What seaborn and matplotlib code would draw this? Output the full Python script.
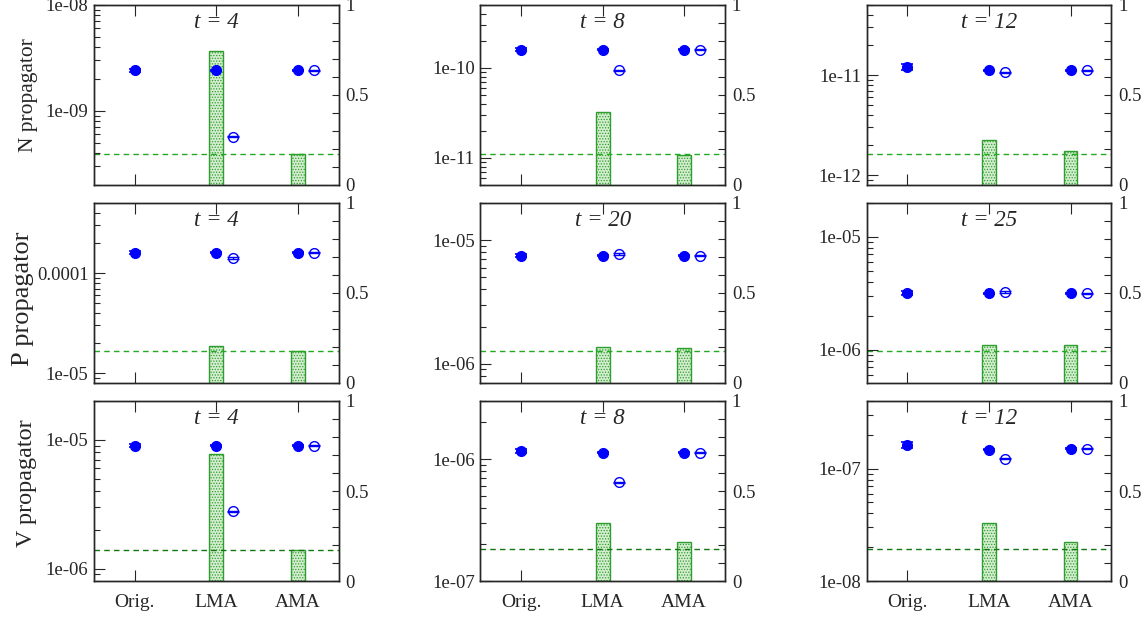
import matplotlib
matplotlib.use('Agg')
import matplotlib.pyplot as plt
import matplotlib.ticker as ticker
import numpy as np
import pandas as pd
import seaborn as sns

# categories on the x axis
cats = ['Orig.', 'LMA', 'AMA']
row_labels = ['N propagator', 'P propagator', 'V propagator']
times = [[4, 8, 12], [4, 20, 25], [4, 8, 12]]

# propagator values (filled = full, open = approximation) per panel
orig_vals = [[2.42e-9, 1.60e-10, 1.21e-11],
             [1.60e-4, 7.52e-6, 3.17e-6],
             [9.00e-6, 1.16e-6, 1.64e-7]]
lma_vals = [[2.42e-9, 1.60e-10, 1.11e-11],
            [1.60e-4, 7.52e-6, 3.17e-6],
            [9.00e-6, 1.13e-6, 1.48e-7]]
lma_open = [[5.70e-10, 9.40e-11, 1.06e-11],
            [1.41e-4, 7.70e-6, 3.26e-6],
            [2.78e-6, 6.45e-7, 1.23e-7]]
ama_vals = [[2.42e-9, 1.60e-10, 1.11e-11],
            [1.60e-4, 7.52e-6, 3.17e-6],
            [9.00e-6, 1.13e-6, 1.51e-7]]
ama_open = [[2.42e-9, 1.60e-10, 1.11e-11],
            [1.60e-4, 7.52e-6, 3.17e-6],
            [9.00e-6, 1.13e-6, 1.51e-7]]
# relative errors
orig_err = [[0.03, 0.03, 0.07], [0.03, 0.03, 0.04], [0.03, 0.04, 0.06]]
other_err = 0.015

# cost ratio bars (right axis) for LMA and AMA, and reference line
bar_lma = [[0.744, 0.407, 0.248], [0.207, 0.198, 0.209], [0.708, 0.320, 0.320]]
bar_ama = [[0.172, 0.165, 0.190], [0.179, 0.196, 0.209], [0.171, 0.219, 0.219]]
ref_line = [[0.172, 0.174, 0.174], [0.179, 0.179, 0.179], [0.175, 0.177, 0.177]]

ylims = [[(2e-10, 1e-8), (5e-12, 5e-10), (8e-13, 5e-11)],
         [(8e-6, 5e-4), (7e-7, 2e-5), (5.1e-7, 2e-5)],
         [(8e-7, 2e-5), (1e-7, 3e-6), (1e-8, 4e-7)]]

sns.set_style('ticks', {'xtick.direction': 'in', 'ytick.direction': 'in'})
plt.rcParams['font.family'] = ['Liberation Serif', 'DejaVu Serif']
plt.rcParams['hatch.linewidth'] = 0.6

fig, axes = plt.subplots(3, 3, figsize=(11.48, 6.21), dpi=100)
fig.subplots_adjust(left=0.0819, right=0.968, top=0.992, bottom=0.0644,
                    wspace=0.58, hspace=0.1)

ref_colors = ['#22aa22', '#22aa22', '#117711']
label_sizes = [15.5, 19, 17.4]
label_pos = [(-0.23, 0.5), (-0.245, 0.47), (-0.235, 0.545)]
x = np.arange(3)

for r in range(3):
    for c in range(3):
        ax = axes[r, c]
        # bars on the linear 0..1 axis
        bdf = pd.DataFrame({'cat': ['LMA', 'AMA'],
                            'val': [bar_lma[r][c], bar_ama[r][c]]})
        sns.barplot(data=bdf, x='cat', y='val', order=cats, ax=ax,
                    width=0.17, color='#d4edcf', saturation=1,
                    edgecolor='#2e9e2e', linewidth=1.0, hatch='......',
                    errorbar=None)
        ax.axhline(ref_line[r][c], color=ref_colors[r], lw=1.0,
                   dashes=(4, 3))

        # propagator points on a log twin axis (drawn above the bars)
        ax2 = ax.twinx()

        ax.set_ylim(0, 1)
        ax.set_xlim(-0.5, 2.5)
        ax.set_xlabel('')
        ax.set_ylabel('')
        ax.yaxis.tick_right()
        ax.yaxis.set_major_locator(ticker.FixedLocator([0, 0.5, 1]))
        ax.yaxis.set_minor_locator(ticker.MultipleLocator(0.1))
        ax.yaxis.set_major_formatter(ticker.FuncFormatter(lambda v, p: '%g' % v))
        ax.tick_params(axis='y', which='both', direction='in', length=5,
                       width=0.8, labelsize=13.5, pad=5)
        ax.set_xticks(x)
        ax.tick_params(axis='x', direction='in', length=8, width=0.8,
                       top=True, bottom=True, labelsize=14, pad=9)
        if r < 2:
            ax.set_xticklabels([])
        else:
            ax.set_xticklabels(cats)

        ax2.set_yscale('log')
        fv = [orig_vals[r][c], lma_vals[r][c], ama_vals[r][c]]
        fe = [orig_vals[r][c] * orig_err[r][c],
              lma_vals[r][c] * other_err, ama_vals[r][c] * other_err]
        ax2.errorbar(x, fv, yerr=fe, fmt='o', ms=7, color='blue',
                     mfc='blue', mec='blue', capsize=4.5, elinewidth=1,
                     capthick=1.2, zorder=5)
        ov = [lma_open[r][c], ama_open[r][c]]
        oe = [v * other_err for v in ov]
        ax2.errorbar(x[1:] + 0.2, ov, yerr=oe, fmt='o', ms=7, color='blue',
                     mfc='none', mec='blue', mew=1.0, capsize=4.5,
                     elinewidth=1, capthick=1.2, zorder=5)
        lo, hi = ylims[r][c]
        ax2.set_ylim(lo, hi)
        ax2.yaxis.tick_left()
        # only decades inside the visible range get labels
        decades = 10.0 ** np.arange(np.ceil(np.log10(lo) - 1e-9),
                                    np.floor(np.log10(hi) + 1e-9) + 1)
        ax2.yaxis.set_major_locator(ticker.FixedLocator(decades))
        ax2.yaxis.set_minor_locator(ticker.LogLocator(base=10, subs=np.arange(2, 10)))
        ax2.yaxis.set_major_formatter(ticker.FuncFormatter(lambda v, p: '%g' % v))
        ax2.yaxis.set_minor_formatter(ticker.NullFormatter())
        ax2.tick_params(axis='y', which='major', direction='in', length=8,
                        width=0.8, labelsize=13.5, pad=4)
        ax2.tick_params(axis='y', which='minor', direction='in', length=4,
                        width=0.8)
        for sp in list(ax2.spines.values()) + list(ax.spines.values()):
            sp.set_linewidth(1.0)
        ax2.text(0.5, 0.905, 't = %d' % times[r][c], transform=ax2.transAxes,
                 ha='center', va='center', style='italic', fontsize=16.5)
        if c == 0:
            ax2.set_ylabel(row_labels[r], fontsize=label_sizes[r])
            ax2.yaxis.set_label_position('left')
            ax2.yaxis.set_label_coords(*label_pos[r])

fig.savefig('out.png', dpi=100)
